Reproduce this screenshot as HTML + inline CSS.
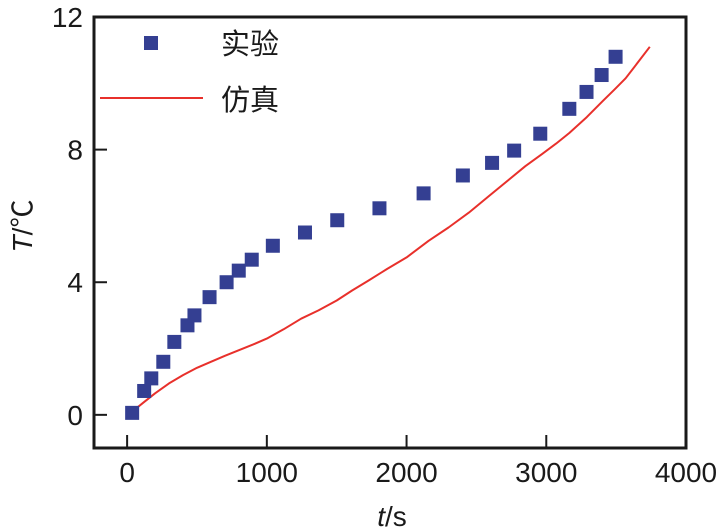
<!DOCTYPE html>
<html><head><meta charset="utf-8"><style>
html,body{margin:0;padding:0;background:#fff;}
svg{display:block;}
text{font-family:"Liberation Sans","Noto Sans CJK SC",sans-serif;fill:#1a1a1a;}
</style></head><body>
<svg id="chart" width="725" height="532" viewBox="0 0 725 532">
<g id="plot"></g>
</svg>
<script>
const expTime = [36,122,173,259,338,432,482,590,712,799,892,1043,1273,1504,1806,2122,2403,2612,2770,2957,3165,3288,3396,3496];
const expTemp = [0.06,0.72,1.1,1.6,2.2,2.7,3.0,3.55,4.0,4.35,4.68,5.1,5.5,5.87,6.23,6.68,7.22,7.6,7.97,8.48,9.23,9.74,10.25,10.8];
const simTime = [43,120,200,300,400,500,600,700,800,900,1000,1120,1245,1370,1500,1610,1727,1860,2000,2158,2300,2446,2590,2734,2850,2971,3070,3165,3290,3403,3490,3568,3650,3741];
const simTemp = [0.12,0.38,0.65,0.95,1.2,1.42,1.6,1.78,1.95,2.12,2.3,2.58,2.9,3.15,3.45,3.75,4.05,4.4,4.75,5.25,5.65,6.1,6.6,7.1,7.5,7.87,8.18,8.5,8.98,9.46,9.82,10.15,10.6,11.1];
const xTicks = [0,1000,2000,3000,4000];
const yTicks = [0,4,8,12];
const xLabels = ["0","1000","2000","3000","4000"];
const yLabels = ["0","4","8","12"];

const NS="http://www.w3.org/2000/svg";
const X0=-237,X1=4000,Y0=-1,Y1=12;
const L=94,R=686,T=17,B=448;
function sx(v){return L+(v-X0)/(X1-X0)*(R-L);}
function sy(v){return B-(v-Y0)/(Y1-Y0)*(B-T);}
const g=document.getElementById('plot');
function mk(tag,attrs,parent){const e=document.createElementNS(NS,tag);for(const k in attrs)e.setAttribute(k,attrs[k]);(parent||g).appendChild(e);return e;}

let d=simTime.map((t,i)=>(i?'L':'M')+sx(t).toFixed(1)+','+sy(simTemp[i]).toFixed(1)).join(' ');
const line=mk('path',{d:d,fill:'none',stroke:'#e8302b','stroke-width':2,'stroke-linejoin':'round'});



expTime.forEach((t,i)=>{
  const r=mk('rect',{x:sx(t)-7,y:sy(expTemp[i])-7,width:14,height:14,fill:'#343f92'});
  
  
});

const fr=mk('rect',{x:L,y:T,width:R-L,height:B-T,fill:'none',stroke:'#1a1a1a','stroke-width':3});



xTicks.forEach((v,i)=>{
  const x=sx(v);
  if(v<X1){const tk=mk('line',{x1:x,x2:x,y1:B,y2:B-13,stroke:'#1a1a1a','stroke-width':2});
  
  }
  const tl=mk('text',{x:x,y:482,'text-anchor':'middle','font-size':28});
  tl.textContent=xLabels[i];
  
  
});
yTicks.forEach((v,i)=>{
  const y=sy(v);
  if(v<Y1){const tk=mk('line',{x1:L,x2:L+13,y1:y,y2:y,stroke:'#1a1a1a','stroke-width':2});
  
  }
  const tl=mk('text',{x:83,y:y+10,'text-anchor':'end','font-size':28});
  tl.textContent=yLabels[i];
  
  
});
</script>
<svg style="position:absolute;left:0;top:0" width="725" height="532">
<text x="392" y="526" text-anchor="middle" font-size="28"><tspan font-style="italic">t</tspan>/s</text>
<text transform="translate(32,226) rotate(-90)" text-anchor="middle" font-size="28"><tspan font-style="italic">T</tspan>/℃</text>
<g>
<rect x="144" y="36" width="14" height="14" fill="#343f92"/>
<text x="221" y="54" font-size="29">实验</text>
<line x1="100" y1="98" x2="203" y2="98" stroke="#e8302b" stroke-width="2"/>
<text x="221" y="110" font-size="29">仿真</text>
</g>
</svg>
</body></html>
